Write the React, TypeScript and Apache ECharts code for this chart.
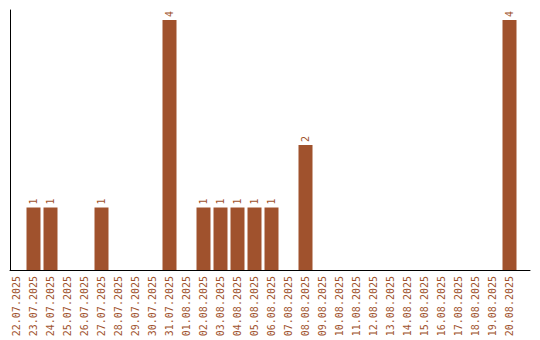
import React, { useEffect, useRef } from "react";
import * as echarts from "echarts";

const dates: string[] = [
  "22.07.2025", "23.07.2025", "24.07.2025", "25.07.2025", "26.07.2025",
  "27.07.2025", "28.07.2025", "29.07.2025", "30.07.2025", "31.07.2025",
  "01.08.2025", "02.08.2025", "03.08.2025", "04.08.2025", "05.08.2025",
  "06.08.2025", "07.08.2025", "08.08.2025", "09.08.2025", "10.08.2025",
  "11.08.2025", "12.08.2025", "13.08.2025", "14.08.2025", "15.08.2025",
  "16.08.2025", "17.08.2025", "18.08.2025", "19.08.2025", "20.08.2025",
];

const counts: number[] = [
  0, 1, 1, 0, 0, 1, 0, 0, 0, 4,
  0, 1, 1, 1, 1, 1, 0, 2, 0, 0,
  0, 0, 0, 0, 0, 0, 0, 0, 0, 4,
];

const COLOR = "#A0522D";
const FONT = "'DejaVu Sans Mono', monospace";

export default function App() {
  const ref = useRef<HTMLDivElement>(null);
  useEffect(() => {
    if (!ref.current) return;
    const chart = echarts.init(ref.current, undefined, { renderer: "svg" });
    chart.setOption({
      animation: false,
      backgroundColor: "#ffffff",
      grid: [
        { left: 10, right: 10, top: 10, bottom: 70 },
        { left: 8, width: 510, top: 20, bottom: 70 },
      ],
      xAxis: [
        {
          gridIndex: 0,
          type: "value",
          min: 0,
          max: 1,
          axisLine: { show: true, onZero: false, lineStyle: { color: "#000", width: 1 } },
          axisTick: { show: false },
          axisLabel: { show: false },
          splitLine: { show: false },
        },
        {
          gridIndex: 1,
          type: "category",
          data: dates,
          axisLine: { show: false },
          axisTick: { show: false },
          splitLine: { show: false },
          axisLabel: {
            interval: 0,
            rotate: 90,
            margin: 6,
            color: COLOR,
            fontFamily: FONT,
            fontSize: 10,
          },
        },
      ],
      yAxis: [
        {
          gridIndex: 0,
          type: "value",
          min: 0,
          max: 1,
          axisLine: { show: true, onZero: false, lineStyle: { color: "#000", width: 1 } },
          axisTick: { show: false },
          axisLabel: { show: false },
          splitLine: { show: false },
        },
        {
          gridIndex: 1,
          type: "value",
          min: 0,
          max: 4,
          show: false,
          splitLine: { show: false },
        },
      ],
      series: [
        {
          type: "bar",
          xAxisIndex: 1,
          yAxisIndex: 1,
          data: counts,
          barWidth: 14,
          itemStyle: { color: COLOR },
          label: {
            show: true,
            position: "top",
            rotate: 90,
            align: "left",
            verticalAlign: "middle",
            distance: 3,
            color: COLOR,
            fontFamily: FONT,
            fontSize: 10,
            formatter: (p: any) => (p.value ? String(p.value) : ""),
          },
        },
      ],
    });
    return () => chart.dispose();
  }, []);
  return (
    <div
      ref={ref}
      style={{ position: "fixed", left: 0, top: 0, width: 540, height: 340 }}
    />
  );
}
